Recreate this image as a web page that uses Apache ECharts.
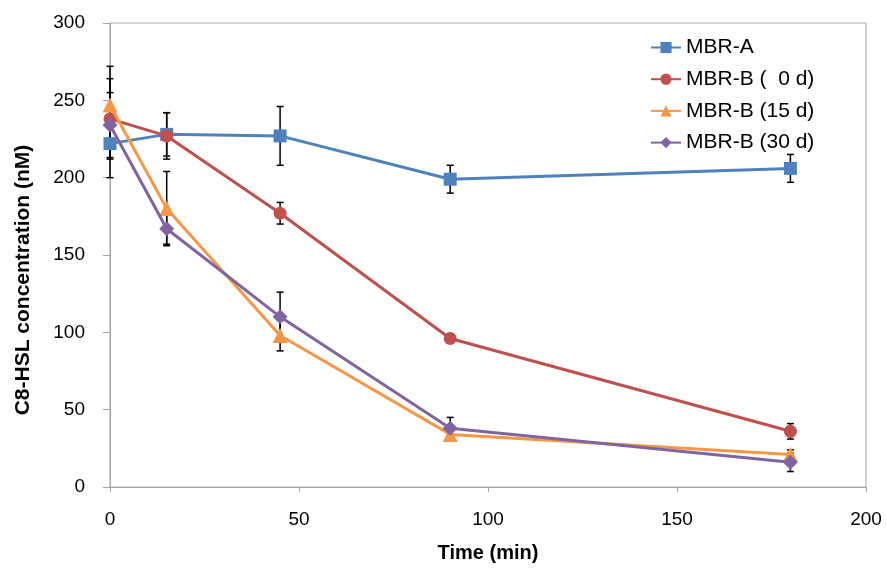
<!DOCTYPE html>
<html>
<head>
<meta charset="utf-8">
<script src="https://cdn.jsdelivr.net/npm/echarts@6/dist/echarts.min.js"></script>
<style>
  html, body { margin: 0; padding: 0; background: #fff; }
  #chart { width: 887px; height: 568px; }
</style>
</head>
<body>
<div id="chart"></div>
<script>
// Sampling times (min)
const times = [0, 15, 45, 90, 180];

// C8-HSL concentration (nM) and standard deviations
const mbrA = [222, 228, 227, 199, 206];
const mbrAErr = [22, 14, 19, 9, 9];
const mbrB0 = [238, 227, 177, 96, 36];
const mbrB0Err = [26, 15, 7, 3, 5];
const mbrB15 = [247, 180, 98, 34, 21];
const mbrB15Err = [25, 24, 10, 2, 3];
const mbrB30 = [234, 167, 110, 38, 16];
const mbrB30Err = [21, 10, 16, 7, 6];

const seriesNames = ['MBR-A', 'MBR-B (  0 d)', 'MBR-B (15 d)', 'MBR-B (30 d)'];
const colors = ['#4F81BD', '#C0504D', '#F79646', '#8064A2'];
const symbols = ['rect', 'circle', 'triangle', 'diamond'];
const symbolSizes = [13, 13, 15, 15];
const values = [mbrA, mbrB0, mbrB15, mbrB30];
const errors = [mbrAErr, mbrB0Err, mbrB15Err, mbrB30Err];

const font = '"Liberation Sans", Arial, sans-serif';
const axisGray = '#A6A6A6';

// Vertical error bar with short caps, placed through the axis scales
function errorBarSeries(vals, errs) {
  return {
    type: 'custom',
    silent: true,
    z: 1,
    data: times.map((t, i) => [t, vals[i] - errs[i], vals[i] + errs[i]]),
    renderItem: function (params, api) {
      const lo = api.coord([api.value(0), api.value(1)]);
      const hi = api.coord([api.value(0), api.value(2)]);
      const cap = 3.5;
      const style = { stroke: '#000', lineWidth: 1.5 };
      return {
        type: 'group',
        children: [
          { type: 'line', shape: { x1: lo[0], y1: lo[1], x2: hi[0], y2: hi[1] }, style: style },
          { type: 'line', shape: { x1: lo[0] - cap, y1: lo[1], x2: lo[0] + cap, y2: lo[1] }, style: style },
          { type: 'line', shape: { x1: hi[0] - cap, y1: hi[1], x2: hi[0] + cap, y2: hi[1] }, style: style }
        ]
      };
    }
  };
}

const lineSeries = values.map((vals, k) => ({
  name: seriesNames[k],
  type: 'line',
  z: 2 + k,
  data: times.map((t, i) => [t, vals[i]]),
  symbol: symbols[k],
  symbolSize: symbolSizes[k],
  showAllSymbol: true,
  lineStyle: { color: colors[k], width: 3 },
  itemStyle: { color: colors[k] },
  emphasis: { disabled: true }
}));

const errSeries = values.map((vals, k) => errorBarSeries(vals, errors[k]));

const chart = echarts.init(document.getElementById('chart'), null, { renderer: 'canvas' });
chart.setOption({
  animation: false,
  backgroundColor: '#fff',
  textStyle: { fontFamily: font },
  grid: {
    left: 110, right: 21, top: 23, bottom: 81,
    show: true, borderColor: axisGray, borderWidth: 1, backgroundColor: 'transparent'
  },
  legend: {
    orient: 'vertical',
    left: 650, top: 37, padding: 0,
    itemWidth: 30, itemHeight: 14, itemGap: 10.7,
    data: seriesNames,
    textStyle: { fontFamily: font, fontSize: 21, lineHeight: 21, color: '#000' }
  },
  graphic: [{
    type: 'text',
    x: 23.5, y: 280,
    rotation: Math.PI / 2,
    style: {
      text: 'C8-HSL concentration (nM)',
      font: 'bold 21px "Liberation Sans", Arial, sans-serif',
      fill: '#000',
      align: 'center',
      verticalAlign: 'middle'
    }
  }],
  xAxis: {
    type: 'value', min: 0, max: 200, interval: 50,
    name: 'Time (min)', nameLocation: 'middle', nameGap: 56,
    nameTextStyle: { fontFamily: font, fontSize: 20, fontWeight: 'bold', color: '#000' },
    axisLine: { show: true, lineStyle: { color: axisGray, width: 1 } },
    axisTick: { show: true, length: 5, lineStyle: { color: axisGray } },
    axisLabel: { fontFamily: font, fontSize: 19, color: '#000', margin: 23 },
    splitLine: { show: false }
  },
  yAxis: {
    type: 'value', min: 0, max: 300, interval: 50,
    axisLine: { show: true, lineStyle: { color: axisGray, width: 1 } },
    axisTick: { show: true, length: 7, lineStyle: { color: axisGray } },
    axisLabel: { fontFamily: font, fontSize: 19, color: '#000', margin: 25 },
    splitLine: { show: false }
  },
  series: errSeries.concat(lineSeries)
});
</script>
</body>
</html>
